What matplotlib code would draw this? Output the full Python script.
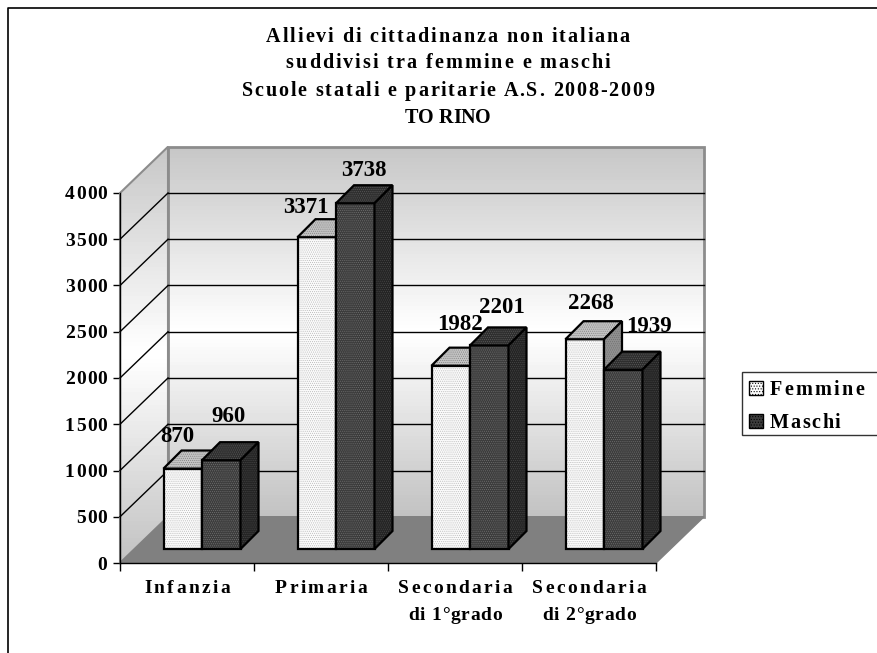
import matplotlib
matplotlib.use("Agg")
import matplotlib.pyplot as plt
import numpy as np
from matplotlib.lines import Line2D
from matplotlib.patches import Patch, Polygon, Rectangle
from matplotlib.text import Text
from matplotlib.transforms import IdentityTransform

categories = ["Infanzia", "Primaria", "Secondaria\ndi 1°grado", "Secondaria\ndi 2°grado"]
femmine = [870, 3371, 1982, 2268]
maschi = [960, 3738, 2201, 1939]
title_lines = [
    "Allievi di cittadinanza non italiana",
    "suddivisi tra femmine e maschi",
    "Scuole statali e paritarie A.S. 2008-2009",
    "TO RINO",
]

# label nudges in pixels (dx, dy) from the bar top centre
fem_nudge = [(-5, 32), (-11, 30), (9, 41), (6, 36)]
mas_nudge = [(7, 44), (9, 33), (13, 38), (26, 43)]

W, H = 877, 653
plt.rcParams["font.family"] = ["Liberation Serif", "DejaVu Serif"]
plt.rcParams["font.weight"] = "bold"
plt.rcParams["hatch.linewidth"] = 0.45


class TrackedText(Text):
    """Text drawn glyph by glyph with extra letter spacing (px), one value per line."""
    tracking = (0,)

    def draw(self, renderer):
        if not self.get_visible() or not self.get_text():
            return
        fp = self.get_fontproperties()
        measure = lambda s: renderer.get_text_width_height_descent(s, fp, False)
        box = self.get_window_extent(renderer)
        lines = self.get_text().split("\n")
        _, h, d = measure("lp")
        step = (box.height - h) / (len(lines) - 1) if len(lines) > 1 else 0
        for n, line in enumerate(lines):
            px = self.tracking[n]
            full = measure(line)[0] + px * (len(line) - 1)
            if self.get_ha() == "center":
                start = (box.x0 + box.x1 - full) / 2
            elif self.get_ha() == "right":
                start = box.x1 - full
            else:
                start = box.x0
            base = box.y1 - n * step - (h - d)
            for i, ch in enumerate(line):
                x = start + measure(line[:i])[0] + px * i if i else start
                piece = Text(x, base, ch, transform=IdentityTransform(), fontproperties=fp,
                             color=self.get_color(), va="baseline", ha="left")
                piece.set_figure(self.get_figure())
                piece.draw(renderer)


def track(text, *px):
    text.__class__ = TrackedText
    text.tracking = px


fig = plt.figure(figsize=(W / 100, H / 100), dpi=100)
# axes cover the front plane of the 3D box
ax = fig.add_axes([120 / W, 1 - 563 / H, 536 / W, 370 / H])
ax.patch.set_visible(False)

DX, DY = 48 / 134, 500          # box depth
BDX, BDY = 18 / 134, 195        # bar depth
BASE = 151                      # bars stand a bit inside the floor
BW = 38.5 / 134
SHIFT = 15 / 134
WALL = "#8c8c8c"
GRAD = np.concatenate([np.linspace(0.78, 1.0, 50), np.linspace(1.0, 0.76, 50)])[:, None]

# back wall
ax.imshow(GRAD, cmap="gray", vmin=0, vmax=1, aspect="auto",
          extent=(DX, 4 + DX, DY, DY + 4000), zorder=1, clip_on=False)
ax.add_patch(Polygon([(DX, DY), (4 + DX, DY), (4 + DX, DY + 4000), (DX, DY + 4000)],
                     closed=True, fc="none", ec=WALL, lw=2, zorder=2, clip_on=False))

# left wall
left_pts = [(0, 0), (DX, DY), (DX, DY + 4000), (0, 4000)]
left = ax.imshow(GRAD, cmap="gray", vmin=0, vmax=1, aspect="auto",
                 extent=(0, DX, 0, DY + 4000), zorder=1)
left.set_clip_box(fig.bbox)
left.set_clip_path(Polygon(left_pts, closed=True, transform=ax.transData))
ax.add_patch(Polygon(left_pts, closed=True, fc="none", ec=WALL, lw=1.5, zorder=2, clip_on=False))

# floor
ax.add_patch(Polygon([(0, 0), (4, 0), (4 + DX, DY), (DX, DY)], closed=True,
                     fc="#808080", ec="#808080", lw=1, zorder=2, clip_on=False))

# gridlines on the walls
for v in range(500, 4000, 500):
    ax.plot([0, DX], [v, v + DY], color="black", lw=1, zorder=3, clip_on=False)
    ax.plot([DX, 4 + DX], [v + DY, v + DY], color="black", lw=1, zorder=3, clip_on=False)

ax.set_xlim(0, 4)
ax.set_ylim(0, 4000)


def draw_bar(x, value, front, top, side, dots, z):
    y0, y1 = BASE, BASE + value
    x1 = x + BW
    pieces = [
        ([(x, y0), (x1, y0), (x1, y1), (x, y1)], front, dots[0]),
        ([(x, y1), (x1, y1), (x1 + BDX, y1 + BDY), (x + BDX, y1 + BDY)], top, dots[1]),
        ([(x1, y0), (x1 + BDX, y0 + BDY), (x1 + BDX, y1 + BDY), (x1, y1)], side, dots[2]),
    ]
    for pts, fc, dc in pieces:
        ax.add_patch(Polygon(pts, closed=True, fc=fc, ec=dc, hatch="........", lw=0,
                             zorder=z, clip_on=False))
        ax.add_patch(Polygon(pts, closed=True, fc="none", ec="black", lw=1.6,
                             zorder=z, clip_on=False))


for i in range(len(categories)):
    x_f = i + 0.5 + SHIFT - BW
    x_m = x_f + BW
    draw_bar(x_f, femmine[i], "#fbfbfb", "#c4c4c4", "#909090",
             ("#b8b8b8", "#808080", "#707070"), 4 + i * 2)
    draw_bar(x_m, maschi[i], "#3c3c3c", "#2e2e2e", "#242424",
             ("#707070", "#5a5a5a", "#484848"), 5 + i * 2)
    for x, v, (ndx, ndy) in ((x_f, femmine[i], fem_nudge[i]), (x_m, maschi[i], mas_nudge[i])):
        ax.annotate(str(v), (x + BW / 2, BASE + v), xytext=(ndx * 0.72, ndy * 0.72),
                    textcoords="offset points", ha="center", va="center",
                    fontsize=16.5, fontweight="bold", zorder=20, annotation_clip=False)

# axes
for s in ("top", "right"):
    ax.spines[s].set_visible(False)
for s in ("left", "bottom"):
    ax.spines[s].set_zorder(30)
    ax.spines[s].set_linewidth(1)
ax.set_yticks(range(0, 4001, 500))
ax.tick_params(axis="y", length=5, width=1, pad=4, labelsize=14)
for lab in ax.get_yticklabels():
    track(lab, 1.2)
ax.set_xticks(range(5))
ax.set_xticklabels([])
ax.tick_params(axis="x", which="major", length=6, width=1)
ax.set_xticks(np.arange(len(categories)) + 0.5, minor=True)
ax.set_xticklabels(categories, minor=True, fontsize=14, linespacing=1.8)
ax.tick_params(axis="x", which="minor", length=0, pad=12)
for lab in ax.get_xticklabels(minor=True):
    track(lab, 2.4, 0.7)

# title, one line at a time
for line, y, px in zip(title_lines, (37, 63, 91, 118), (1.9, 2.0, 1.8, 0)):
    t = fig.text(448 / W, 1 - y / H, line, ha="center", va="center", fontsize=14.5, fontweight="bold")
    track(t, px)

# legend, frame runs off the right edge in the source
fig.add_artist(Rectangle((742 / W, 1 - 435 / H), 140 / W, 63 / H, fc="white", ec="#333333",
                         lw=1, transform=fig.transFigure, zorder=5))
handles = [
    Patch(fc="#fbfbfb", ec="black", hatch="......", label="Femmine"),
    Patch(fc="#3c3c3c", ec="black", hatch="......", label="Maschi"),
]
leg = fig.legend(handles=handles, loc="upper left", bbox_to_anchor=(749 / W, 1 - 380 / H),
                 bbox_transform=fig.transFigure, fontsize=14.5, frameon=False, borderaxespad=0,
                 borderpad=0, handlelength=0.68, handleheight=0.72, handletextpad=0.35,
                 labelspacing=0.65)
leg.set_zorder(6)
for t, px in zip(leg.get_texts(), (2.3, 1.6)):
    track(t, px)

# outer frame, only left and top are visible in the source
fig.add_artist(Line2D([7.5 / W, 7.5 / W, 1], [0, 1 - 7.5 / H, 1 - 7.5 / H], color="black", lw=1.2))

fig.savefig("out.png", dpi=100)
